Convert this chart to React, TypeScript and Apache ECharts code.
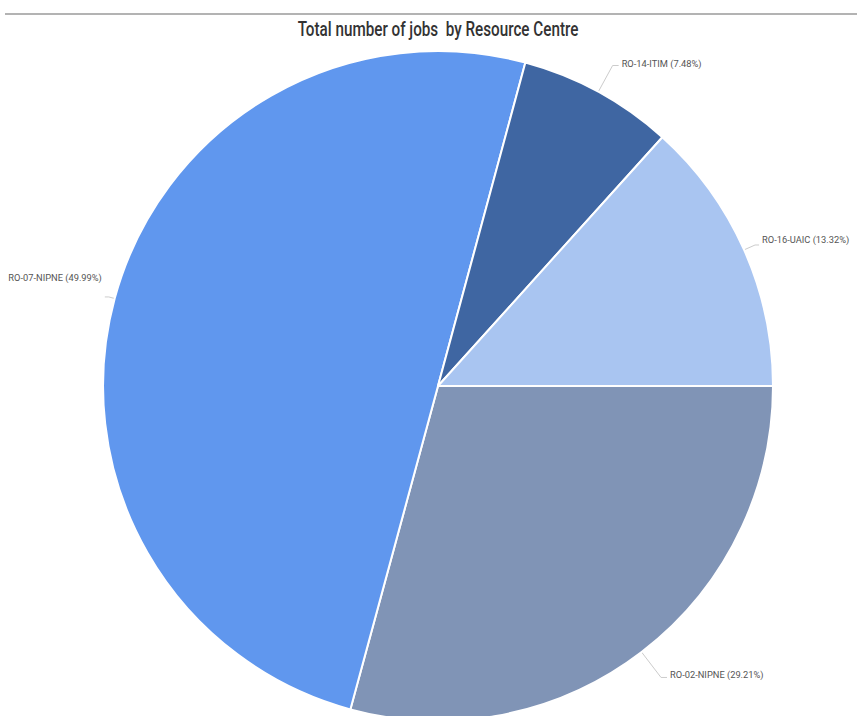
import React, { useEffect, useRef } from "react";
import * as echarts from "echarts";

const titleText = "Total number of jobs  by Resource Centre";
const centres = ["RO-02-NIPNE", "RO-07-NIPNE", "RO-14-ITIM", "RO-16-UAIC"];
const jobShares = [29.21, 49.99, 7.48, 13.32];
const colors = ["#8094B6", "#6097EE", "#3F66A2", "#A9C5F1"];
const lineLengths = [32, 6, 30, 12];
const lineLengths2 = [6, 4, 6, 4];
const labelShiftY = [-3, -19, -2, -5];

export default function App() {
  const ref = useRef<HTMLDivElement>(null);
  useEffect(() => {
    document.body.style.margin = "0";
    const chart = echarts.init(ref.current!, null, { renderer: "svg" });
    const titleFont = "500 20px Roboto";
    const canvas = document.createElement("canvas");
    const ctx = canvas.getContext("2d")!;
    ctx.font = titleFont;
    const w = ctx.measureText(titleText).width || 370;
    const sx = 281 / w;
    chart.setOption({
      animation: false,
      backgroundColor: "#ffffff",
      graphic: [
        {
          type: "line",
          shape: { x1: 5, y1: 14, x2: 857, y2: 14 },
          style: { stroke: "#9a9a9a", lineWidth: 1.5 },
        },
        {
          type: "text",
          x: 438,
          y: 29,
          scaleX: sx,
          style: {
            text: titleText,
            font: titleFont,
            fill: "#333333",
            textAlign: "center",
            textVerticalAlign: "middle",
          },
        },
      ],
      series: [
        {
          type: "pie",
          center: [438, 386],
          radius: [0, 335],
          startAngle: 0,
          clockwise: true,
          avoidLabelOverlap: false,
          itemStyle: { borderColor: "#ffffff", borderWidth: 2 },
          label: {
            formatter: "{b} ({d}%)",
            fontFamily: "Roboto",
            fontSize: 9.3,
            color: "#555555",
            distanceToLabelLine: 3,
          },
          labelLine: { lineStyle: { color: "#cccccc", width: 1 } },
          labelLayout: (p: any) => ({ dy: labelShiftY[p.dataIndex] || 0 }),
          data: centres.map((name, i) => ({
            name,
            value: jobShares[i],
            itemStyle: { color: colors[i] },
            labelLine: { length: lineLengths[i], length2: lineLengths2[i] },
          })),
        },
      ],
    });
    return () => chart.dispose();
  }, []);
  return <div ref={ref} style={{ width: 857, height: 716 }} />;
}
